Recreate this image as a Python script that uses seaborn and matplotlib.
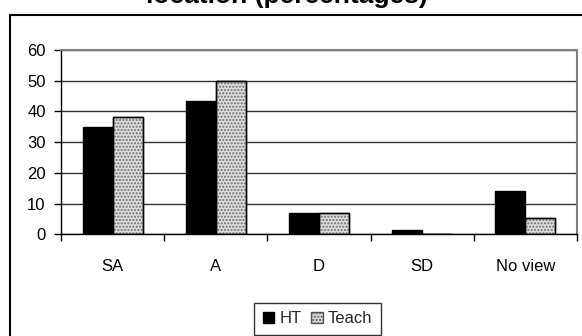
import matplotlib
matplotlib.use("Agg")
import matplotlib.pyplot as plt
from matplotlib.patches import Rectangle
import seaborn as sns
import pandas as pd
import numpy as np

categories = ["SA", "A", "D", "SD", "No view"]
ht_values = [35, 43.4, 6.8, 1.3, 14.2]
teach_values = [38.3, 50, 6.8, 0, 5.2]
series_names = ["HT", "Teach"]
y_ticks = [0, 10, 20, 30, 40, 50, 60]
title_text = "location (percentages)"

df = pd.DataFrame({
    "category": categories * 2,
    "value": ht_values + teach_values,
    "series": [series_names[0]] * len(categories) + [series_names[1]] * len(categories),
})

sns.set_theme(style="white")
plt.rcParams["font.family"] = ["Liberation Sans", "DejaVu Sans"]
plt.rcParams["hatch.linewidth"] = 1.0

W, H = 582, 336
fig = plt.figure(figsize=(W / 100, H / 100), dpi=100)
ax = fig.add_axes([61 / W, 1 - 234.3 / H, (577 - 61) / W, (234.3 - 50) / H])

sns.barplot(data=df, x="category", y="value", hue="series", order=categories,
            hue_order=series_names, palette=["black", "#dcdcdc"], width=0.58,
            edgecolor="black", linewidth=1.0, saturation=1, ax=ax, legend=False)

# dotted texture on Teach bars
teach_container = ax.containers[1]
for p in teach_container.patches:
    overlay = Rectangle(p.get_xy(), p.get_width(), p.get_height(), facecolor="none",
                        edgecolor="#6e6e6e", hatch=".....", linewidth=0, zorder=p.get_zorder() + 0.1)
    ax.add_patch(overlay)
    edge = Rectangle(p.get_xy(), p.get_width(), p.get_height(), facecolor="none",
                     edgecolor="black", linewidth=1.0, zorder=p.get_zorder() + 0.2)
    ax.add_patch(edge)

ax.set_ylim(0, 60)
ax.set_xlim(-0.5, len(categories) - 0.5)
ax.set_yticks(y_ticks)
ax.set_yticklabels([str(t) for t in y_ticks])
ax.set_xlabel("")
ax.set_ylabel("")
ax.yaxis.grid(True, color="#333333", linewidth=1.0)
ax.set_axisbelow(True)

ax.set_xticks(np.arange(len(categories)))
ax.set_xticklabels(categories)
ax.set_xticks(np.arange(len(categories) + 1) - 0.5, minor=True)
ax.tick_params(axis="x", which="major", length=0, pad=18, labelsize=12, colors="black")
ax.tick_params(axis="x", which="minor", length=5, width=1, direction="out", color="black", bottom=True)
ax.tick_params(axis="y", which="major", length=5, width=1, direction="out", left=True, pad=6,
               labelsize=12, colors="black")

for side in ["left", "bottom"]:
    ax.spines[side].set_color("black")
    ax.spines[side].set_linewidth(1.0)
for side in ["top", "right"]:
    ax.spines[side].set_visible(True)
    ax.spines[side].set_color("#808080")
    ax.spines[side].set_linewidth(1.5)

# legend
handles = [Rectangle((0, 0), 1, 1, facecolor="black", edgecolor="black"),
           Rectangle((0, 0), 1, 1, facecolor="#dcdcdc", edgecolor="#555555", hatch=".....")]
leg = fig.legend(handles, series_names, loc="upper center", bbox_to_anchor=(317.5 / W, 1 - 303 / H),
                 ncol=2, frameon=True, fancybox=False, fontsize=12, handlelength=0.7,
                 handleheight=0.7, handletextpad=0.3, columnspacing=0.6, borderpad=0.5,
                 borderaxespad=0)
leg.get_frame().set_edgecolor("black")
leg.get_frame().set_linewidth(1.0)

# outer chart border (clipped by the image edge)
fig.patches.append(Rectangle((10.5 / W, -0.2), 1.5, 1 - 15 / H + 0.2, transform=fig.transFigure,
                             facecolor="none", edgecolor="black", linewidth=1.5))

# title, partly cut off at the top like in the reference
fig.text(287 / W, 1 - 3.5 / H, title_text, ha="center", va="baseline",
         fontsize=19, fontweight="bold", color="black")

fig.savefig("out.png", dpi=100)
